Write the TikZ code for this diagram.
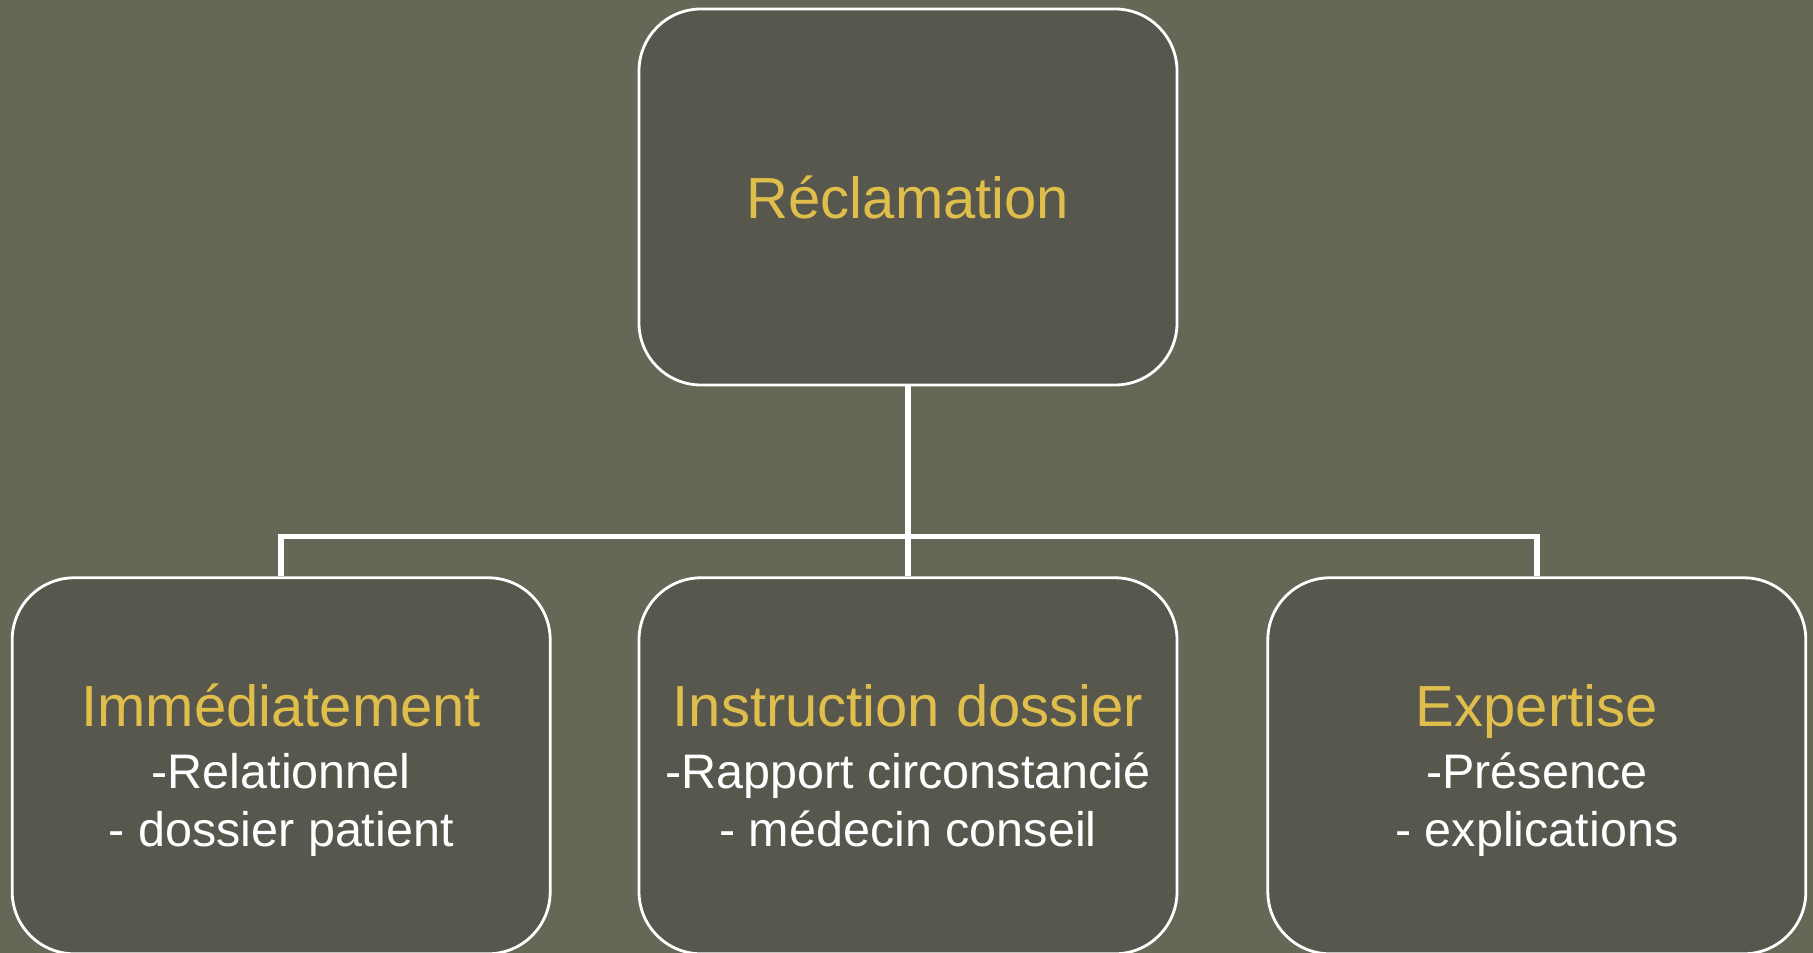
\documentclass[tikz,border=0pt]{standalone}
\usepackage{fontspec}
\setmainfont{Liberation Sans}
\usepackage{xcolor}
\usetikzlibrary{positioning}

\definecolor{bgolive}{HTML}{656757}
\definecolor{boxfill}{HTML}{58574E}
\definecolor{gold}{HTML}{DFBE4B}
\newcommand{\headline}[1]{{\color{gold}\fontsize{16.5}{19}\selectfont\rule{0pt}{14.6pt}#1}}

\begin{document}
\begin{tikzpicture}[
  every node/.style={font=\fontsize{13.8}{16.5}\selectfont},
  box/.style={rectangle, rounded corners=0.62cm, draw=white, fill=boxfill,
              line width=0.8pt, minimum width=5.38cm, minimum height=3.76cm,
              align=center, text=white, inner sep=2pt},
  link/.style={draw=white, line width=1.6pt}
]

% --- Background ---
\fill[bgolive] (0,0) rectangle (18.13,9.53);
\useasboundingbox (0,0) rectangle (18.13,9.53);

% --- Top ---
\node[box, font=\fontsize{16.5}{19}\selectfont, text=gold] (recl) at (9.08,7.56) {Réclamation};

% --- Bottom row ---
\node[box, below=1.9cm of recl] (instr)
  {\headline{Instruction dossier}\\[1pt]
   -Rapport circonstancié\\ - médecin conseil\vphantom{p}};
\node[box, left=0.86cm of instr] (immed)
  {\headline{Immédiatement}\\[1pt]
   -Relationnel\\ - dossier patient};
\node[box, right=0.88cm of instr] (expert)
  {\headline{Expertise}\\[1pt]
   -Présence\\ - explications};

% --- Connectors ---
\draw[link] (recl) -- (instr);
\draw[link] (immed.north) -- ++(0,0.4) -| (expert.north);

\end{tikzpicture}
\end{document}
